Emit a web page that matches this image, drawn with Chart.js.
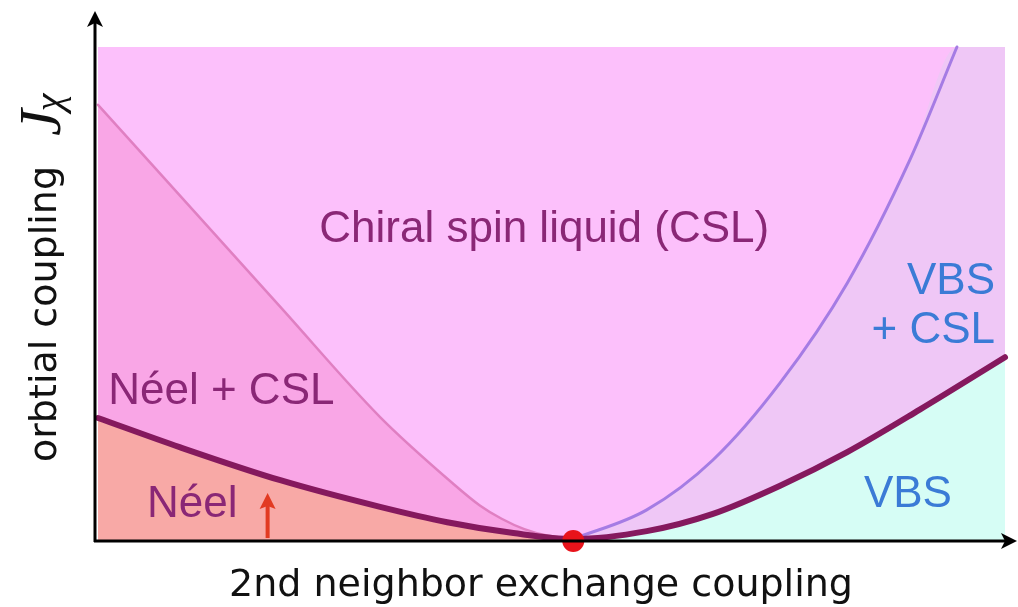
<!DOCTYPE html>
<html>
<head>
<meta charset="utf-8">
<title>Phase diagram</title>
<script src="https://cdn.jsdelivr.net/npm/chart.js@4.4.1/dist/chart.umd.min.js"></script>
<style>
  html, body { margin: 0; padding: 0; background: #ffffff; }
  #wrap { width: 1018px; height: 607px; }
</style>
</head>
<body>
<div id="wrap"><canvas id="chartFases" width="1018" height="607"></canvas></div>
<script>
"use strict";

const mainBoundaryX = [0, 0.90, 2.01, 3.11, 3.85, 4.58, 5.24, 6.05, 6.78, 7.52, 8.26, 9.06, 10];
const mainBoundaryY = [2.49, 1.90, 1.23, 0.69, 0.38, 0.16, 0.04, 0.20, 0.55, 1.12, 1.80, 2.66, 3.72];

const neelCslX = [0, 2.01, 3.11, 3.91, 4.21, 4.45, 4.70, 4.95, 5.24];
const neelCslY = [8.83, 4.74, 2.51, 1.17, 0.72, 0.45, 0.24, 0.11, 0.04];

const vbsCslX = [5.24, 6.05, 6.78, 7.52, 8.26, 8.95, 9.47];
const vbsCslY = [0.04, 0.63, 1.64, 3.20, 5.22, 7.71, 10];

const cslTopX = [0, 10];
const cslTopY = [10, 10];

const criticalX = [5.24];
const criticalY = [0];

const xTitle = "2nd neighbor exchange coupling";
const yTitle = "orbtial coupling";

const COLORS = {
  csl: "#fcc0fb",
  neelCsl: "#f9a6e6",
  vbsCsl: "#efc7f6",
  neel: "#f8a9a6",
  vbs: "#d6fdf5",
  mainLine: "#85195e",
  neelLine: "#e07fc2",
  vbsLine: "#a57ce4",
  labelPurple: "#8a2776",
  labelBlue: "#3b7bd6",
  dot: "#e8131b",
  arrow: "#e23a22"
};

const regionLabels = [
  { text: "Chiral spin liquid (CSL)", x: 4.92, y: 6.05, align: "center", color: COLORS.labelPurple },
  { text: "Néel + CSL", x: 1.36, y: 2.78, align: "center", color: COLORS.labelPurple },
  { text: "Néel", x: 1.04, y: 0.49, align: "center", color: COLORS.labelPurple },
  { text: "VBS", x: 9.89, y: 5.0, align: "right", color: COLORS.labelBlue },
  { text: "+ CSL", x: 9.89, y: 4.01, align: "right", color: COLORS.labelBlue },
  { text: "VBS", x: 8.93, y: 0.69, align: "center", color: COLORS.labelBlue }
];

// flecha roja dentro de la fase Néel
const neelArrow = { x: 1.87, y0: 0.06, y1: 0.97 };

function toPoints(xs, ys) {
  return xs.map((x, i) => ({ x: x, y: ys[i] }));
}

const minIdx = mainBoundaryX.indexOf(5.24);
const mainLeft = toPoints(mainBoundaryX.slice(0, minIdx + 1), mainBoundaryY.slice(0, minIdx + 1));
const mainRight = toPoints(mainBoundaryX.slice(minIdx), mainBoundaryY.slice(minIdx));

const vbsCslArea = toPoints(vbsCslX, vbsCslY).concat([{ x: 10, y: 10 }]);

function areaDataset(label, data, color, order) {
  return {
    label: label,
    data: data,
    fill: "origin",
    backgroundColor: color,
    borderWidth: 0,
    pointRadius: 0,
    cubicInterpolationMode: "monotone",
    order: order
  };
}

function lineDataset(label, data, color, width, order) {
  return {
    label: label,
    data: data,
    fill: false,
    borderColor: color,
    borderWidth: width,
    pointRadius: 0,
    cubicInterpolationMode: "monotone",
    borderCapStyle: "round",
    clip: false,
    order: order
  };
}

const decorPlugin = {
  id: "decor",
  afterDatasetsDraw(chart) {
    const ctx = chart.ctx;
    const xs = chart.scales.x;
    const ys = chart.scales.y;
    const x0 = xs.getPixelForValue(0) - 3;
    const y0 = ys.getPixelForValue(0);

    ctx.save();

    // etiquetas de las fases
    ctx.font = "44px 'Liberation Sans', Arial, sans-serif";
    ctx.textBaseline = "alphabetic";
    regionLabels.forEach(l => {
      ctx.fillStyle = l.color;
      ctx.textAlign = l.align;
      ctx.fillText(l.text, xs.getPixelForValue(l.x), ys.getPixelForValue(l.y));
    });

    // flecha roja
    const ax = xs.getPixelForValue(neelArrow.x);
    const ay0 = ys.getPixelForValue(neelArrow.y0);
    const ay1 = ys.getPixelForValue(neelArrow.y1);
    ctx.strokeStyle = COLORS.arrow;
    ctx.fillStyle = COLORS.arrow;
    ctx.lineWidth = 4;
    ctx.beginPath();
    ctx.moveTo(ax, ay0);
    ctx.lineTo(ax, ay1 + 12);
    ctx.stroke();
    ctx.beginPath();
    ctx.moveTo(ax, ay1);
    ctx.lineTo(ax - 8, ay1 + 16);
    ctx.lineTo(ax, ay1 + 13);
    ctx.lineTo(ax + 8, ay1 + 16);
    ctx.closePath();
    ctx.fill();

    // ejes con flechas
    ctx.strokeStyle = "#000";
    ctx.fillStyle = "#000";
    ctx.lineWidth = 3;
    ctx.beginPath();
    ctx.moveTo(x0, y0 + 1);
    ctx.lineTo(x0, 22);
    ctx.moveTo(x0 - 1, y0);
    ctx.lineTo(1006, y0);
    ctx.stroke();
    ctx.beginPath();
    ctx.moveTo(x0, 11);
    ctx.lineTo(x0 - 8, 27);
    ctx.lineTo(x0, 23);
    ctx.lineTo(x0 + 8, 27);
    ctx.closePath();
    ctx.fill();
    ctx.beginPath();
    ctx.moveTo(1017, y0);
    ctx.lineTo(1001, y0 - 8);
    ctx.lineTo(1005, y0);
    ctx.lineTo(1001, y0 + 8);
    ctx.closePath();
    ctx.fill();

    // titulos de los ejes
    ctx.fillStyle = "#111";
    ctx.font = "38px 'DejaVu Sans', sans-serif";
    ctx.textAlign = "center";
    ctx.fillText(xTitle, 541, 596);

    ctx.translate(56, 462);
    ctx.rotate(-Math.PI / 2);
    ctx.textAlign = "left";
    ctx.fillText(yTitle, 0, 0);
    const w = ctx.measureText(yTitle).width;
    ctx.font = "italic 60px 'Liberation Serif', serif";
    ctx.fillText("J", w + 30, 4);
    const wj = ctx.measureText("J").width;
    ctx.font = "italic 40px 'Liberation Serif', serif";
    ctx.fillText("χ", w + 30 + wj - 2, 6);

    ctx.restore();
  }
};

const chart = new Chart(document.getElementById("chartFases").getContext("2d"), {
  type: "line",
  data: {
    datasets: [
      areaDataset("CSL", toPoints(cslTopX, cslTopY), COLORS.csl, 10),
      areaDataset("Néel + CSL", toPoints(neelCslX, neelCslY), COLORS.neelCsl, 9),
      areaDataset("VBS + CSL", vbsCslArea, COLORS.vbsCsl, 8),
      areaDataset("Néel", mainLeft, COLORS.neel, 7),
      areaDataset("VBS", mainRight, COLORS.vbs, 6),
      lineDataset("borde Néel+CSL", toPoints(neelCslX, neelCslY), COLORS.neelLine, 2.5, 3),
      lineDataset("borde VBS+CSL", toPoints(vbsCslX, vbsCslY), COLORS.vbsLine, 3, 2),
      lineDataset("borde principal", toPoints(mainBoundaryX, mainBoundaryY), COLORS.mainLine, 6, 1),
      {
        label: "punto crítico",
        data: toPoints(criticalX, criticalY),
        showLine: false,
        pointRadius: 11,
        pointBackgroundColor: COLORS.dot,
        pointBorderWidth: 0,
        clip: false,
        order: 0
      }
    ]
  },
  options: {
    responsive: false,
    animation: false,
    layout: { padding: { left: 98, right: 13, top: 47, bottom: 66 } },
    plugins: {
      legend: { display: false },
      tooltip: { enabled: false }
    },
    scales: {
      x: { type: "linear", min: 0, max: 10, display: false },
      y: { type: "linear", min: 0, max: 10, display: false }
    }
  },
  plugins: [decorPlugin]
});
</script>
</body>
</html>
